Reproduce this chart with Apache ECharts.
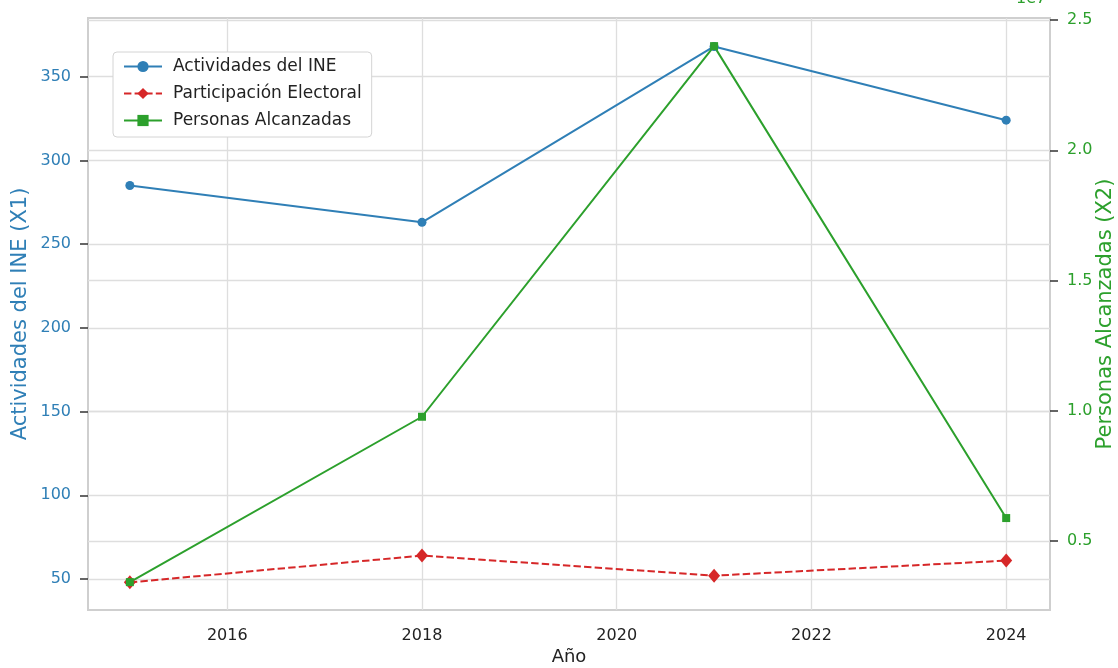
<!DOCTYPE html>
<html>
<head>
<meta charset="utf-8">
<script src="https://cdn.jsdelivr.net/npm/echarts@6/dist/echarts.min.js"></script>
<style>
  html, body { margin: 0; padding: 0; background: #fff; }
  #chart { width: 1118px; height: 668px; }
</style>
</head>
<body>
<div id="chart"></div>
<script>
var years = [2015, 2018, 2021, 2024];
var actividades = [285, 263, 368, 324];
var participacion = [48, 64, 52, 61];
var personas = [0.342, 0.977, 2.40, 0.588]; // x 1e7
var xTicks = [2016, 2018, 2020, 2022, 2024];
var leftTicks = [50, 100, 150, 200, 250, 300, 350];
var rightTicks = [0.5, 1.0, 1.5, 2.0, 2.5];

var font = 'DejaVu Sans';
var blue = '#2f7fb6', red = '#d62728', green = '#2ca02c';

function pairs(ys) {
    return years.map(function (y, i) { return [y, ys[i]]; });
}

var chart = echarts.init(document.getElementById('chart'));
var option = {
    backgroundColor: '#fff',
    animation: false,
    textStyle: {fontFamily: font},
    grid: {
        left: 88, right: 68, top: 18, bottom: 58, outerBoundsMode: 'none', containLabel: false,
        show: true, borderColor: '#cfcfcf', borderWidth: 2
    },
    legend: {
        left: 113, top: 52, orient: 'vertical', itemGap: 10, itemWidth: 38, itemHeight: 14,
        padding: [6, 10, 8, 10], borderColor: '#d4d4d4', borderWidth: 1, borderRadius: 4,
        backgroundColor: '#fff',
        textStyle: {fontFamily: font, fontSize: 17, color: '#222', padding: [0, 0, 0, 6]}
    },
    xAxis: {
        type: 'value', min: 2014.57, max: 2024.45,
        name: 'Año', nameLocation: 'middle', nameGap: 38, nameMoveOverlap: false,
        nameTextStyle: {fontFamily: font, fontSize: 18, color: '#222'},
        axisLine: {show: false},
        axisTick: {show: false, customValues: xTicks},
        axisLabel: {
            customValues: xTicks, fontFamily: font, fontSize: 16, color: '#222', margin: 18,
            formatter: function (v) { return String(v); }
        },
        splitLine: {show: true, lineStyle: {color: '#dedede', width: 1.3}}
    },
    yAxis: [{
        type: 'value', min: 31.5, max: 385, position: 'left',
        name: 'Actividades del INE (X1)', nameLocation: 'middle', nameGap: 57, nameMoveOverlap: false,
        nameTextStyle: {fontFamily: font, fontSize: 21, color: blue},
        axisLine: {show: false},
        axisTick: {show: true, customValues: leftTicks, length: 8, lineStyle: {color: '#333', width: 1.5}},
        axisLabel: {customValues: leftTicks, fontFamily: font, fontSize: 16, color: blue, margin: 17},
        splitLine: {show: true, lineStyle: {color: '#dedede', width: 1.3}}
    }, {
        type: 'value', min: 0.235, max: 2.508, position: 'right',
        name: 'Personas Alcanzadas (X2)', nameLocation: 'middle', nameGap: 45, nameMoveOverlap: false,
        nameTextStyle: {fontFamily: font, fontSize: 21, color: green},
        axisLine: {show: false},
        axisTick: {show: true, customValues: rightTicks, length: 8, lineStyle: {color: '#333', width: 1.5}},
        axisLabel: {
            customValues: rightTicks, fontFamily: font, fontSize: 16, color: green, margin: 17,
            formatter: function (v) { return v.toFixed(1); }
        },
        splitLine: {show: true, lineStyle: {color: '#dedede', width: 1.3}}
    }],
    graphic: [{
        type: 'text', left: 1016, top: -9,
        style: {text: '1e7', fill: green, font: '16px "DejaVu Sans"'}
    }],
    series: [{
        name: 'Actividades del INE', type: 'line', yAxisIndex: 0,
        data: pairs(actividades),
        symbol: 'circle', symbolSize: 9,
        itemStyle: {color: blue}, lineStyle: {color: blue, width: 2}
    }, {
        name: 'Participación Electoral', type: 'line', yAxisIndex: 0,
        data: pairs(participacion),
        symbol: 'diamond', symbolSize: [12, 14],
        itemStyle: {color: red}, lineStyle: {color: red, width: 2, type: [7.4, 3.2]}
    }, {
        name: 'Personas Alcanzadas', type: 'line', yAxisIndex: 1,
        data: pairs(personas),
        symbol: 'rect', symbolSize: 8,
        itemStyle: {color: green}, lineStyle: {color: green, width: 2}
    }]
};
chart.setOption(option);
</script>
</body>
</html>
